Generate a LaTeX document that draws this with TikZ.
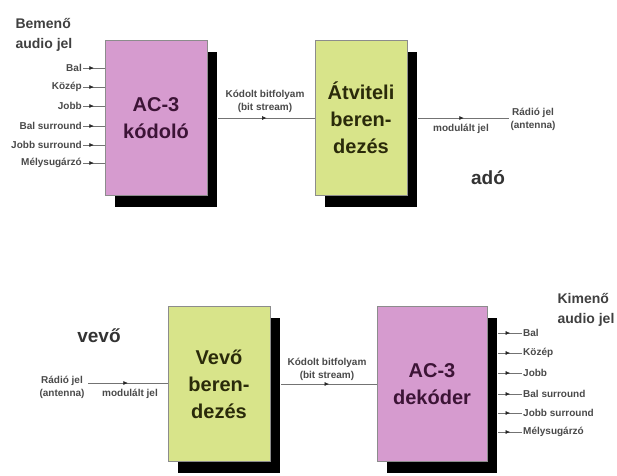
\documentclass[tikz,border=0pt]{standalone}
\usepackage{fontspec}
\setmainfont{Liberation Sans}
\usetikzlibrary{shadows,decorations.markings,arrows.meta}
\definecolor{pinkbox}{HTML}{D69BCF}
\definecolor{greenbox}{HTML}{D8E48A}
\definecolor{pinktxt}{HTML}{3C1436}
\definecolor{greentxt}{HTML}{2A2A0A}
\definecolor{lbl}{HTML}{4A4A4A}
\begin{document}
\begin{tikzpicture}[x=1pt,y=-1pt,
  blk/.style={draw=black!45, line width=0.5pt, inner sep=0pt, align=center,
     font=\fontsize{20}{27}\selectfont\bfseries,
     general shadow={fill=black, shadow xshift=10pt, shadow yshift=-11pt}},
  pinkblk/.style={blk, fill=pinkbox, text=pinktxt},
  greenblk/.style={blk, fill=greenbox, text=greentxt},
  lab/.style={font=\fontsize{10}{13}\selectfont\bfseries, text=lbl, inner sep=1pt, align=center},
  head/.style={font=\fontsize{14}{20}\selectfont\bfseries, text=black!75, align=left, inner sep=0pt},
  side/.style={font=\fontsize{19}{22}\selectfont\bfseries, text=black!80, inner sep=0pt},
  conn/.style={draw=black!55, line width=0.6pt, postaction={decorate},
     decoration={markings, mark=at position 0.5 with {\arrow[black!85]{Latex[length=4.5pt,width=4pt]}}}},
]
\fill[white] (0,0) rectangle (617,475);
\useasboundingbox (0,0) rectangle (617,475);

% blocks
\node[pinkblk, minimum width=102pt, minimum height=155pt] (enc) at (156,118) {AC-3\\kódoló};
\node[greenblk, minimum width=92pt, minimum height=155pt] (tx) at (361,118) {Átviteli\\beren-\\dezés};
\node[greenblk, minimum width=102pt, minimum height=155pt] (rx) at (219,384) {Vevő\\beren-\\dezés};
\node[pinkblk, minimum width=110pt, minimum height=155pt] (dec) at (432,384) {AC-3\\dekóder};

% transmitter side
\node[head] (inhead) at (44,35) {Bemenő\\audio jel};
\node[lab, anchor=east] (i1) at (83,68) {Bal};
\node[lab, anchor=east] (i2) at (83,87) {Közép};
\node[lab, anchor=east] (i3) at (83,106) {Jobb};
\node[lab, anchor=east] (i4) at (83,126) {Bal surround};
\node[lab, anchor=east] (i5) at (83,145) {Jobb surround};
\node[lab, anchor=east] (i6) at (83,163) {Mélysugárzó};
\foreach \n in {i1,i2,i3,i4,i5,i6}
  \draw[conn] (\n.east) -- (\n.east -| enc.west);

\node[lab] (bs1) at (265,101) {Kódolt bitfolyam\\(bit stream)};
\draw[conn] ([xshift=11pt]enc.east) -- (tx.west);

\node[lab] (ant1) at (533,119) {Rádió jel\\(antenna)};
\draw[conn] ([xshift=11pt]tx.east) -- (tx.east -| ant1.west);
\node[lab] (mod1) at (461,129) {modulált jel};
\node[side] (ado) at (488,178) {adó};

% receiver side
\node[side] (vevo) at (99,336) {vevő};
\node[lab] (ant2) at (62,387) {Rádió jel\\(antenna)};
\coordinate (l2) at (88,383);
\draw[conn] (l2) -- (l2 -| rx.west);
\node[lab] (mod2) at (130,394) {modulált jel};

\node[lab] (bs2) at (327,369) {Kódolt bitfolyam\\(bit stream)};
\draw[conn] ([xshift=11pt]rx.east) -- (dec.west);

\node[head] (outhead) at (586,310) {Kimenő\\audio jel};
\node[lab, anchor=west] (o1) at (522,333) {Bal};
\node[lab, anchor=west] (o2) at (522,353) {Közép};
\node[lab, anchor=west] (o3) at (522,373) {Jobb};
\node[lab, anchor=west] (o4) at (522,394) {Bal surround};
\node[lab, anchor=west] (o5) at (522,413) {Jobb surround};
\node[lab, anchor=west] (o6) at (522,432) {Mélysugárzó};
\foreach \n in {o1,o2,o3,o4,o5,o6}
  \draw[conn] ([xshift=11pt]\n.west -| dec.east) -- (\n.west);
\end{tikzpicture}
\end{document}
